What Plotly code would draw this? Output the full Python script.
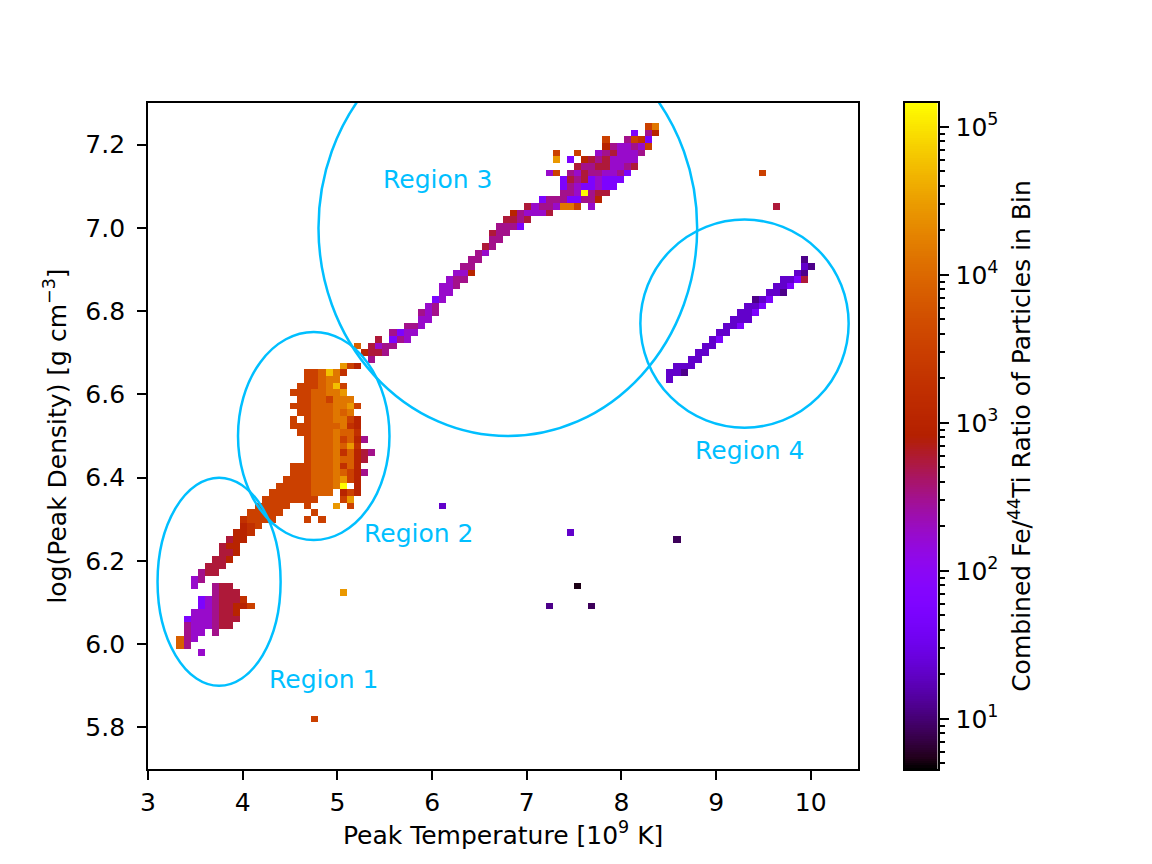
import numpy as np
import plotly.graph_objects as go

# 2D histogram grid (100 x 100 bins over the plotted range)
x_lo, x_hi, n_x = 3.0, 10.5, 100
y_lo, y_hi, n_y = 5.7, 7.3, 100

# colour codes -> log10(Fe/44Ti ratio)
level_codes = "01k23456789abcde"
level_values = [0.72, 0.92, 1.07, 1.32, 1.75, 2.25, 2.5, 2.75,
                3.0, 3.25, 3.5, 3.9, 4.15, 4.45, 4.75, 5.15]

# (row j, first column i, codes) ; '.' = empty bin
cell_rows = [
    (7, 23, "9"),
    (17, 7, "4"),
    (18, 4, "a5"),
    (19, 4, "a54"),
    (20, 5, "544.5"),
    (21, 5, "5444566"),
    (22, 5, "34445666"),
    (23, 6, "4445667"),
    (24, 7, "34566779"), (24, 56, "k"), (24, 62, "1"),
    (25, 7, "3456668"),
    (26, 9, "5666"), (26, 27, "c"),
    (27, 6, "4..566"), (27, 60, "0"),
    (28, 6, "45"),
    (29, 7, "566"),
    (30, 8, "666"),
    (31, 9, "667"),
    (32, 10, "667"),
    (33, 10, "677"),
    (34, 11, "677"), (34, 74, "1"),
    (35, 12, "778"), (35, 59, "2"),
    (36, 13, "789"),
    (37, 13, "89999"), (37, 22, "9.9"),
    (38, 14, "99999"), (38, 23, "9"),
    (39, 15, "99999..9...c.9"), (39, 41, "2"),
    (40, 16, "99999999...9c"),
    (41, 17, "999999aaa.797"),
    (42, 18, "99999aaabe.7"),
    (43, 19, "9999aaabc97"),
    (44, 20, "999aaaba975"),
    (45, 20, "999aaab8a7"),
    (46, 22, "9aaabaa76"),
    (47, 22, "9aaab8a765"),
    (48, 22, "9aaabac8"),
    (49, 22, "9aaab9a75"),
    (50, 21, "99aaabaa8"),
    (51, 20, "999aaaab87"),
    (52, 20, "9.9aaabb97"),
    (53, 21, "99aaabab"),
    (54, 20, "999aaabbc9"),
    (55, 21, "99aa9bbb"),
    (56, 20, "999aabbc"),
    (57, 21, "999abd9"),
    (58, 22, "99abb"), (58, 73, "2"),
    (59, 22, "99adb8"), (59, 73, "22k"),
    (60, 27, "c97"), (60, 74, "222"),
    (61, 31, "5"), (61, 76, "22"),
    (62, 30, "7665"), (62, 77, "22"),
    (63, 29, "a.6455"), (63, 78, "22"),
    (64, 32, "6.354"), (64, 79, "23"),
    (65, 34, "5344"), (65, 80, "22"),
    (66, 36, "554"), (66, 81, "223"),
    (67, 38, "44"), (67, 82, "222"),
    (68, 38, "545"), (68, 83, "223"),
    (69, 39, "45"), (69, 84, "223"),
    (70, 40, "34"), (70, 85, "k23"),
    (71, 41, "44"), (71, 87, "22k"),
    (72, 41, "445"), (72, 88, "223"),
    (73, 42, "455"), (73, 89, "2236"),
    (74, 43, "447"), (74, 91, "2k"),
    (75, 44, "55"), (75, 92, "2k"),
    (76, 45, "55"), (76, 92, "k"),
    (77, 46, "54"),
    (78, 47, "65"),
    (79, 48, "55"),
    (80, 48, "655"),
    (81, 49, "5553"),
    (82, 50, "6656"),
    (83, 51, "754446"),
    (84, 53, "64554bb9.4"), (84, 88, "6"),
    (85, 55, "355533557"),
    (86, 58, "554e566"),
    (87, 58, "35433433"),
    (88, 58, "365634333"),
    (89, 56, "49.546554453"), (89, 86, "9"),
    (90, 60, "655664456"),
    (91, 57, "c.3.76564444"),
    (92, 57, "9..9..4564445"),
    (93, 64, "7544549"),
    (94, 64, "9..5983"),
    (95, 68, "3.57"),
    (96, 70, "9b"),
]

# colour bar limits (log10)
cb_lo, cb_hi = 0.661, 5.161
cb_major = [1, 2, 3, 4, 5]

# highlighted regions (ellipses) and their labels
region_cx = [3.75, 4.75, 6.8, 9.3]
region_cy = [6.15, 6.5, 7.0, 6.77]
region_rx = [0.65, 0.8, 2.0, 1.1]
region_ry = [0.25, 0.25, 0.5, 0.25]
label_text = ["Region 1", "Region 2", "Region 3", "Region 4"]
label_x = [4.3, 5.3, 5.5, 8.8]
label_y = [5.9, 6.25, 7.1, 6.45]

# ---- build histogram matrix
lookup = dict(zip(level_codes, level_values))
z = np.full((n_y, n_x), np.nan)
for j, i0, codes in cell_rows:
    for k, c in enumerate(codes):
        if c != ".":
            z[j, i0 + k] = lookup[c]
dx = (x_hi - x_lo) / n_x
dy = (y_hi - y_lo) / n_y
x_centres = x_lo + dx * (np.arange(n_x) + 0.5)
y_centres = y_lo + dy * (np.arange(n_y) + 0.5)
z_list = [[None if np.isnan(v) else float(v) for v in row] for row in z]

# matplotlib "gnuplot" colormap
s = np.linspace(0, 1, 65)
r = np.sqrt(s)
g = s ** 3
b = np.clip(np.sin(2 * np.pi * s), 0, 1)
gnuplot = [[float(t), f"rgb({int(round(rr*255))},{int(round(gg*255))},{int(round(bb*255))})"]
           for t, rr, gg, bb in zip(s, r, g, b)]

font = dict(family="DejaVu Sans", size=25, color="black")

# page body has an 8px margin, so place everything 8px up/left
W, H, OFF = 1152, 864, 8


def px_x(p):
    return (p - OFF) / W


def px_y(p):
    return 1 - (p - OFF) / H


fig = go.Figure()
fig.add_trace(go.Heatmap(
    x=x_centres, y=y_centres, z=z_list,
    colorscale=gnuplot, zmin=cb_lo, zmax=cb_hi,
    showscale=False, hoverongaps=False,
))

# colour bar drawn as its own small axis so it can carry minor ticks
cb_levels = np.linspace(cb_lo, cb_hi, 300)
fig.add_trace(go.Heatmap(
    x=[0], y=cb_levels, z=[[float(v)] for v in cb_levels],
    colorscale=gnuplot, zmin=cb_lo, zmax=cb_hi,
    showscale=False, xaxis="x2", yaxis="y2", hoverinfo="skip",
))
cb_minor = [np.log10(m * 10.0 ** e) for e in range(0, 6) for m in range(2, 10)]
cb_minor = [float(v) for v in cb_minor if cb_lo <= v <= cb_hi]

for cx, cy, rx, ry in zip(region_cx, region_cy, region_rx, region_ry):
    fig.add_shape(type="circle", xref="x", yref="y",
                  x0=cx - rx, x1=cx + rx, y0=cy - ry, y1=cy + ry,
                  line=dict(color="#00BFFF", width=2.5))

for t, lx, ly in zip(label_text, label_x, label_y):
    fig.add_annotation(x=lx, y=ly, xref="x", yref="y", text=t, showarrow=False,
                       xanchor="left", yanchor="bottom", xshift=-4, yshift=-10,
                       font=dict(family="DejaVu Sans", size=25, color="#00BFFF"))

axis_common = dict(showgrid=False, zeroline=False, showline=True, mirror=True,
                   linecolor="black", linewidth=2, ticks="outside",
                   ticklen=9, tickwidth=2, tickcolor="black", tickfont=font)

y_dom = [px_y(769), px_y(103)]

fig.update_layout(
    width=W, height=H,
    paper_bgcolor="white", plot_bgcolor="white",
    margin=dict(l=0, r=0, t=0, b=0),
    font=font,
    showlegend=False,
    xaxis=dict(domain=[px_x(141), px_x(856)], range=[x_lo, x_hi],
               tick0=3, dtick=1, ticklabelstandoff=1,
               title=dict(text="Peak Temperature [10<sup>9</sup> K]", font=font, standoff=9),
               **axis_common),
    yaxis=dict(domain=y_dom, range=[y_lo, y_hi],
               tick0=5.8, dtick=0.2, tickformat=".1f", ticklabelstandoff=7,
               title=dict(text="log(Peak Density) [g cm<sup>−3</sup>]", font=font, standoff=12),
               **axis_common),
    xaxis2=dict(domain=[px_x(903), px_x(936)], range=[-0.5, 0.5], anchor="y2",
                showgrid=False, zeroline=False, showline=True, mirror=True,
                linecolor="black", linewidth=2, showticklabels=False, ticks=""),
    yaxis2=dict(domain=y_dom, range=[cb_lo, cb_hi], anchor="x2",
                side="right", showgrid=False, zeroline=False, showline=True, mirror=True,
                linecolor="black", linewidth=2, ticks="outside", ticklen=9,
                tickwidth=2, tickcolor="black", tickfont=font, ticklabelstandoff=2,
                tickmode="array", tickvals=cb_major,
                ticktext=[f"10<sup>{e}</sup>" for e in cb_major],
                minor=dict(tickmode="array", tickvals=cb_minor, ticks="outside",
                           ticklen=5, tickwidth=1.5, tickcolor="black", showgrid=False),
                title=dict(text="Combined Fe/<sup>44</sup>Ti Ratio of Particles in Bin",
                           font=font, standoff=15)),
)

fig.write_html("out.html")
